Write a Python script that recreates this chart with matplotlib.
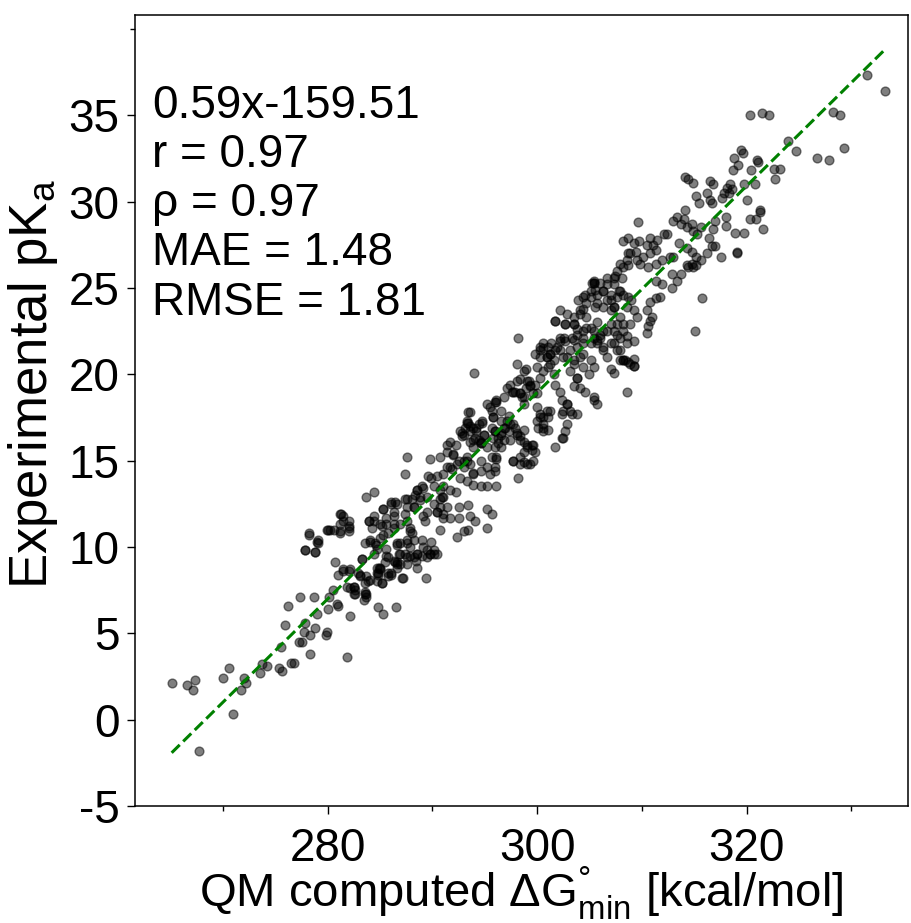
import matplotlib
matplotlib.use('Agg')
import matplotlib.pyplot as plt
import numpy as np

plt.rcParams['font.family'] = ['Liberation Sans', 'DejaVu Sans']
plt.rcParams['mathtext.fontset'] = 'custom'
plt.rcParams['mathtext.rm'] = 'Liberation Sans'
plt.rcParams['mathtext.it'] = 'Liberation Sans:italic'
plt.rcParams['axes.unicode_minus'] = False

# (QM computed dG_min [kcal/mol], experimental pKa), by region
low_region = [
    (265.1, 2.1), (266.6, 2.0), (267.3, 2.3), (267.1, 1.7), (267.7, -1.8), (270.0, 2.4), (270.6, 3.0),
    (271.0, 0.3), (272.0, 2.4), (272.2, 2.1), (271.7, 1.7), (273.5, 2.7), (273.7, 3.2), (274.2, 3.1),
    (275.3, 3.0), (275.6, 2.8), (275.5, 4.2), (276.5, 3.3), (276.8, 3.3), (275.9, 5.5), (276.2, 6.6),
    (277.4, 7.1), (278.7, 7.1), (277.3, 4.5), (277.5, 4.5), (277.7, 5.1), (277.8, 5.6), (278.3, 4.9),
    (278.3, 3.8), (278.8, 5.3), (279.0, 6.1), (279.8, 4.9), (279.9, 5.1), (280.0, 6.4), (280.1, 7.1),
    (280.5, 7.5), (281.0, 6.6), (281.8, 3.6), (282.1, 6.0), (280.7, 9.1), (281.5, 8.6), (282.0, 8.6),
    (282.1, 7.6), (282.5, 7.7), (282.5, 7.3), (283.1, 8.4), (283.6, 7.3), (283.5, 6.9), (283.8, 8.0),
    (284.8, 6.5), (285.3, 6.1), (284.7, 8.5), (284.9, 8.8), (285.2, 7.9), (285.8, 8.3),
    (286.5, 6.5), (289.4, 8.2), (287.1, 8.2), (286.0, 8.5), (285.0, 8.7), (286.6, 9.1), (286.9, 9.0),
    (287.6, 9.0), (288.5, 8.8), (288.4, 9.2), (280.9, 6.7), (281.0, 8.4),
]

lower_mid_region = [
    (281.8, 7.7), (282.6, 7.5), (283.6, 7.9), (283.7, 7.3), (284.7, 8.0), (284.8, 8.5), (285.0, 8.8),
    (285.2, 7.9), (285.8, 8.5), (277.8, 9.8), (278.8, 9.7), (278.2, 10.7), (279.0, 10.3), (279.1, 10.2),
    (280.0, 11.0), (280.6, 11.0), (281.2, 10.9), (281.2, 11.3), (281.3, 11.9), (281.5, 11.8), (282.0, 11.5),
    (282.0, 11.2), (282.0, 10.9), (282.9, 8.5), (283.1, 8.3), (283.3, 9.3), (283.7, 12.9), (284.4, 13.2),
    (283.9, 11.5), (284.2, 11.1), (284.4, 11.8), (283.6, 10.2), (284.0, 10.3), (284.6, 10.1), (284.7, 9.9),
    (284.4, 9.6), (285.3, 12.2), (285.2, 11.2), (285.6, 11.3), (285.3, 10.7), (285.8, 10.8), (286.3, 11.1),
    (286.3, 11.8), (286.0, 12.5), (286.4, 12.6), (286.6, 10.1), (286.9, 10.2), (286.8, 9.6), (286.4, 9.1),
    (286.6, 9.0), (285.6, 9.9), (285.8, 9.4), (285.5, 9.1), (287.4, 12.8), (287.6, 12.3), (287.4, 11.9),
    (288.0, 12.8), (288.3, 13.0), (288.2, 12.3), (287.9, 11.1), (288.0, 10.8), (287.6, 10.4), (287.9, 10.0),
    (287.4, 9.6), (287.9, 9.5), (288.2, 9.4), (288.5, 9.6), (288.8, 12.9), (289.0, 13.5), (288.5, 13.3),
    (289.1, 11.8), (289.5, 12.0), (289.3, 11.5), (289.0, 10.4), (289.9, 10.3), (289.5, 9.8), (289.8, 9.6),
    (290.1, 9.6), (290.4, 9.6), (289.0, 9.5), (287.6, 15.2), (287.4, 14.2), (289.8, 15.1), (290.7, 15.2),
    (289.6, 14.1), (289.9, 14.0), (290.4, 14.1), (290.1, 13.5), (290.7, 13.3), (291.0, 13.5), (290.7, 12.8),
    (291.0, 12.9), (290.7, 12.3), (290.4, 12.0), (291.0, 11.9), (290.7, 11.0), (291.7, 13.3), (292.2, 13.2),
    (292.5, 12.3), (291.7, 11.7), (292.5, 11.7), (292.3, 10.6), (293.0, 10.9), (293.4, 11.0), (293.6, 11.8),
    (294.1, 11.5), (293.4, 12.4), (295.2, 12.2), (295.2, 11.1), (291.4, 15.9), (291.7, 16.1), (292.2, 15.9),
    (291.4, 15.5), (292.0, 15.3), (291.4, 14.6), (291.9, 14.5), (292.3, 14.8), (293.0, 15.0), (293.3, 15.0),
    (292.6, 16.7), (292.8, 16.4), (293.3, 17.2), (293.6, 17.0), (293.9, 16.9), (294.2, 16.7), (294.7, 17.2),
    (293.6, 17.8), (293.6, 16.1), (293.9, 15.8), (294.4, 16.2), (294.6, 16.0), (292.6, 14.0), (293.3, 13.8),
    (293.9, 14.2), (294.6, 14.4), (293.9, 13.6), (294.6, 13.5), (295.7, 17.9), (296.1, 18.4), (295.8, 17.5),
    (296.0, 16.7), (296.3, 16.3), (296.1, 15.2), (296.0, 14.6), (295.2, 13.5), (296.1, 13.5), (295.7, 11.9),
]

lower_mid_extra = [
    (288.5, 13.3), (289.1, 13.4), (289.5, 12.9), (288.8, 12.7), (288.2, 12.3), (287.6, 12.8), (290.1, 12.5),
    (290.4, 12.0), (291.0, 11.7), (291.4, 12.3), (290.9, 12.9), (286.0, 12.6), (286.6, 12.5), (286.3, 12.0),
    (285.3, 12.2), (285.6, 11.7), (285.0, 11.3), (284.4, 11.5), (283.9, 11.5), (286.3, 11.3), (286.9, 11.3),
    (287.6, 11.5), (287.9, 10.9), (288.2, 10.4), (287.6, 10.2), (286.6, 10.2), (286.9, 9.6), (287.6, 9.4),
    (288.5, 9.6), (289.1, 10.0), (289.5, 9.4), (289.8, 9.6), (290.1, 9.8), (281.2, 11.9), (281.5, 11.5),
    (282.0, 11.1), (280.2, 11.0), (279.9, 11.0), (281.2, 10.8), (278.2, 10.8), (279.1, 10.4), (277.8, 9.8),
    (278.8, 9.7), (283.3, 9.3), (284.0, 10.4), (284.5, 10.2), (285.0, 10.5), (285.6, 9.5), (286.3, 9.2),
    (284.7, 8.8), (284.8, 8.4), (286.0, 8.4), (286.6, 8.8), (287.2, 8.2), (283.7, 8.3), (284.0, 8.1),
    (282.5, 7.7), (282.6, 7.3), (283.6, 7.4), (283.7, 7.1), (281.5, 8.7), (282.1, 8.7),
]

center_region = [
    (292.8, 16.6), (293.1, 16.9), (293.4, 17.2), (293.4, 17.8), (294.1, 16.3), (294.6, 16.1), (294.4, 17.1),
    (294.9, 16.5), (294.0, 20.1), (295.5, 18.1), (296.0, 18.4), (296.5, 17.9), (295.8, 17.5), (296.5, 17.3),
    (296.9, 16.9), (296.5, 16.6), (296.3, 16.0), (296.0, 15.8), (296.0, 16.7), (297.3, 17.6), (297.4, 17.1),
    (297.1, 19.2), (297.6, 19.0), (298.1, 19.6), (298.4, 19.7), (298.7, 20.2), (298.9, 20.3), (298.1, 20.6),
    (298.2, 22.1), (297.9, 19.0), (298.5, 18.7), (298.4, 18.9), (298.7, 18.3), (297.9, 16.9), (298.1, 16.6),
    (298.4, 16.4), (298.7, 16.1), (299.0, 15.9), (298.4, 15.2), (297.7, 15.0), (298.7, 14.9), (299.3, 14.8),
    (299.5, 15.6), (299.6, 15.9), (298.9, 19.2), (299.2, 19.6), (299.3, 19.4), (299.6, 18.9), (300.0, 18.9),
    (299.8, 21.2), (300.3, 21.4), (300.0, 20.4), (300.6, 21.8), (300.9, 21.0), (301.2, 20.6), (300.0, 18.1),
    (300.3, 17.7), (300.6, 17.5), (300.9, 17.9), (300.6, 17.1), (300.1, 16.9), (300.6, 16.7), (301.6, 20.0),
    (301.7, 19.4), (302.2, 19.0), (302.4, 18.5), (302.8, 18.3), (303.1, 17.9), (303.3, 17.7), (303.8, 17.7),
    (302.4, 17.7), (302.8, 17.1), (302.7, 16.7), (302.4, 16.3), (301.7, 23.1), (302.7, 22.9), (303.5, 22.9),
    (302.2, 21.9), (302.7, 21.9), (303.3, 22.1), (303.8, 22.3), (303.8, 21.6), (304.4, 21.8), (303.5, 20.8),
    (304.1, 21.0), (304.4, 20.4), (304.9, 20.0), (305.4, 20.4), (303.8, 19.8), (304.1, 19.2), (304.6, 19.0),
    (305.4, 18.7), (305.7, 18.3), (303.9, 24.3), (304.4, 23.8), (304.1, 23.5), (304.6, 24.6), (305.1, 24.8),
    (305.4, 25.3), (304.7, 22.7), (305.4, 22.5), (305.7, 23.0), (306.0, 22.1), (306.3, 22.5), (305.7, 21.8),
    (306.3, 21.4), (306.7, 25.2), (307.3, 25.6), (307.6, 26.0), (307.9, 26.4), (308.6, 26.6), (308.7, 27.0),
    (307.0, 24.3), (307.3, 23.9), (307.9, 23.3), (308.2, 22.5), (307.3, 22.5), (307.0, 21.8), (307.6, 21.4),
    (308.6, 21.8), (309.2, 21.9), (307.0, 20.3), (307.3, 20.1), (307.9, 20.8), (308.4, 20.8), (309.2, 20.5),
    (308.6, 19.0), (305.4, 18.5),
]

center_extra = [
    (302.6, 22.1), (301.9, 21.6), (300.6, 21.5), (301.2, 21.2), (292.0, 15.4), (292.5, 15.0), (293.3, 15.2),
    (293.0, 14.6), (291.7, 14.6), (291.0, 14.2), (293.6, 14.8), (294.6, 15.0), (293.9, 14.3), (295.2, 14.6),
    (295.7, 15.2), (296.1, 15.1), (295.5, 14.2), (296.0, 14.4), (293.3, 17.3), (293.6, 16.7), (294.2, 16.9),
    (294.7, 17.3), (294.9, 16.5), (293.0, 16.5), (293.9, 16.2), (294.6, 16.0), (295.2, 15.8), (295.7, 16.9),
    (295.8, 16.3), (296.5, 16.5), (296.8, 16.9), (297.1, 17.3), (297.3, 16.7), (297.7, 17.1), (298.1, 16.5),
    (298.4, 16.2), (298.7, 16.8), (296.8, 16.2), (297.4, 16.2), (296.5, 15.8), (300.0, 17.3), (300.6, 16.9),
    (301.0, 16.8), (300.3, 17.5), (301.7, 15.8), (302.5, 16.3), (299.0, 15.8), (299.5, 15.9), (299.8, 15.5),
    (298.7, 15.5), (297.7, 15.0), (298.4, 14.8), (299.0, 14.8), (299.6, 15.0), (298.2, 14.0), (295.2, 18.3),
    (296.1, 18.5), (296.8, 18.7), (297.4, 19.4), (297.7, 19.0), (298.4, 18.9), (298.7, 18.7), (299.0, 19.6),
    (299.3, 19.3), (299.8, 19.4), (300.3, 19.8), (300.6, 20.2), (301.0, 20.4), (301.6, 20.8), (300.3, 21.0),
    (301.2, 21.2), (301.0, 21.6), (302.2, 21.4), (302.8, 21.0), (303.1, 20.2), (303.8, 19.8), (303.5, 19.3),
    (302.8, 18.3), (302.5, 17.9), (301.2, 17.9), (301.0, 17.5),
]

band_extra = [
    (300.3, 21.6), (301.3, 21.8), (301.7, 21.4), (300.9, 21.0), (302.2, 22.1), (302.5, 21.0), (303.1, 21.4),
    (303.5, 22.0), (304.4, 22.1), (303.8, 22.6), (305.1, 21.8), (305.7, 22.0), (306.3, 21.6), (306.7, 21.0),
    (307.3, 21.8), (307.9, 21.4), (308.2, 20.8), (308.9, 20.6), (309.2, 20.9), (305.1, 20.8), (303.5, 20.6),
    (304.4, 21.2), (305.4, 25.3), (306.3, 24.8), (307.0, 24.6), (307.6, 24.5), (307.9, 24.8), (307.3, 23.9),
    (306.3, 23.9), (305.7, 24.1), (304.4, 24.5), (304.1, 23.7), (304.7, 23.3), (303.5, 23.3), (302.8, 23.5),
    (302.2, 23.7), (301.7, 23.1), (302.7, 22.9), (303.5, 22.9),
]

upper_mid_region = [
    (309.6, 28.8), (308.2, 27.7), (308.7, 27.9), (309.2, 27.6), (309.7, 27.7), (308.9, 27.0), (309.4, 27.1),
    (309.5, 26.6), (309.8, 26.4), (310.1, 26.8), (310.5, 27.5), (310.8, 27.9), (311.1, 27.5), (311.4, 27.8),
    (311.3, 27.2), (310.8, 27.0), (312.1, 28.1), (312.4, 28.1), (313.0, 28.9), (313.3, 29.1), (313.7, 28.7),
    (314.3, 28.5), (314.0, 29.0), (314.8, 28.7), (314.9, 28.3), (314.1, 29.5), (313.5, 27.6), (314.3, 27.3),
    (314.8, 27.1), (315.2, 26.8), (314.8, 26.4), (314.4, 26.2), (314.3, 26.3), (311.9, 26.6), (312.7, 26.8),
    (312.9, 25.8), (313.3, 25.4), (312.9, 25.0), (311.9, 25.2), (311.3, 25.4), (311.7, 24.5), (311.3, 24.4),
    (310.8, 24.2), (310.5, 23.7), (311.0, 23.3), (310.6, 22.8), (310.5, 22.4), (310.8, 23.1), (308.2, 26.2),
    (308.7, 26.3), (308.1, 25.6), (307.4, 25.7), (307.3, 25.2), (307.8, 24.8), (308.2, 24.6), (308.7, 24.5),
    (309.0, 24.3), (308.6, 23.9), (309.2, 23.7), (309.5, 23.3), (308.9, 22.9), (308.2, 22.9), (305.4, 25.4),
    (306.0, 25.3), (306.7, 25.6), (306.3, 24.8), (305.7, 24.6), (305.1, 24.5), (304.7, 24.1), (305.5, 23.9),
    (306.7, 24.3), (307.0, 23.7), (304.4, 22.5), (305.1, 22.7), (305.4, 22.1), (306.0, 22.3), (306.7, 22.5),
    (307.6, 22.3), (307.9, 22.1), (308.6, 22.2), (307.6, 22.9), (307.0, 22.9), (314.9, 26.2), (315.2, 26.3),
    (308.2, 20.8), (308.7, 20.7), (309.2, 20.5),
]

upper_region = [
    (319.7, 31.0), (320.0, 30.1), (321.3, 29.5), (318.0, 29.1), (318.0, 28.6), (318.9, 28.2), (319.7, 28.2),
    (319.1, 27.0), (317.5, 26.8), (314.1, 31.4), (314.4, 31.3), (314.9, 31.1), (316.5, 31.2), (316.8, 31.0),
    (316.2, 30.5), (315.2, 30.3), (315.4, 29.9), (316.5, 30.1), (316.7, 29.9), (317.6, 30.2), (317.8, 30.5),
    (318.1, 30.8), (318.4, 31.0), (318.6, 30.7), (318.3, 30.5), (315.6, 28.5), (315.3, 28.1), (316.8, 28.4),
    (317.0, 28.9), (316.4, 27.9), (316.7, 27.4), (317.0, 27.4), (316.2, 27.0), (315.6, 26.6), (319.1, 27.1),
    (310.6, 26.2), (311.3, 26.4), (313.7, 25.8), (313.0, 26.8),
]

top_region = [
    (331.5, 37.3), (333.2, 36.4), (320.3, 35.0), (321.5, 35.1), (322.1, 35.0), (328.2, 35.2), (328.9, 35.0),
    (323.9, 33.5), (324.7, 32.9), (326.7, 32.5), (327.9, 32.4), (329.3, 33.1), (319.5, 33.0), (319.6, 32.8),
    (318.8, 32.5), (321.0, 32.4), (321.1, 32.3), (320.4, 31.8), (318.7, 31.8), (319.2, 32.1), (322.6, 31.9),
    (323.2, 31.9), (322.7, 31.3), (320.8, 31.0), (320.3, 29.0), (320.9, 29.0), (321.3, 29.4), (321.6, 28.4),
    (315.7, 24.4), (315.1, 22.5), (305.2, 25.3), (305.5, 24.9),
]

fit_slope = 0.598
fit_intercept = -160.45
stats_lines = ['0.59x-159.51', 'r = 0.97', 'ρ = 0.97', 'MAE = 1.48', 'RMSE = 1.81']

x_major = [280, 300, 320]
x_minor = [270, 290, 310, 330]
y_major = [-5, 0, 5, 10, 15, 20, 25, 30, 35]
y_minor = [40]

groups = [low_region, lower_mid_region, lower_mid_extra, center_region, center_extra,
          band_extra, upper_mid_region, upper_region, top_region]
pts = np.array([p for g in groups for p in g])
xs, ys = pts[:, 0], pts[:, 1]

fig = plt.figure(figsize=(9.11, 9.23), dpi=100)
ax = fig.add_axes([0.1482, 0.1268, 0.8485, 0.8569])

ax.scatter(xs, ys, s=40, c='k', alpha=0.5, linewidths=1.0, zorder=2)
xl = np.array([xs.min(), xs.max()])
ax.plot(xl, fit_slope * xl + fit_intercept, linestyle='--', color='green',
        lw=2.2, zorder=3)

ax.set_xlim(261.6, 335.4)
ax.set_ylim(-5, 40.8)
ax.set_xticks(x_major)
ax.set_xticks(x_minor, minor=True)
ax.set_yticks(y_major)
ax.set_yticklabels([str(v) for v in y_major])
ax.set_yticks(y_minor, minor=True)
ax.tick_params(which='major', length=6, width=1.0, labelsize=33, pad=5)
ax.tick_params(axis='x', which='major', pad=9)
ax.tick_params(which='minor', length=3.5, width=1.0)
for sp in ax.spines.values():
    sp.set_linewidth(1.1)

ax.set_xlabel('QM computed ΔG$^{\\degree}_{\\mathrm{min}}$ [kcal/mol]', fontsize=34, labelpad=-4)
ax.set_ylabel('Experimental pK$_{\\mathrm{a}}$', fontsize=38)
ax.yaxis.set_label_coords(-0.097, 0.533)

for i, line in enumerate(stats_lines):
    ax.text(0.022, 0.870 - 0.0622 * i, line, transform=ax.transAxes,
            fontsize=33, ha='left', va='baseline')

fig.savefig('out.png', dpi=100)
